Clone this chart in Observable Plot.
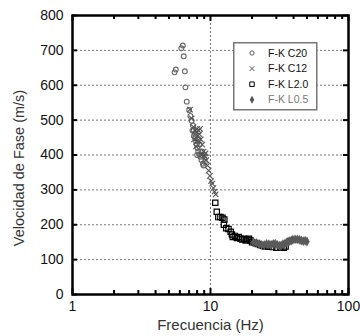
<!DOCTYPE html>
<html><head><meta charset="utf-8">
<script src="https://cdn.jsdelivr.net/npm/d3@7"></script>
<script src="https://cdn.jsdelivr.net/npm/@observablehq/plot@0.6"></script>
<style>
body{margin:0;background:#fff;font-family:"Liberation Sans",Arial,sans-serif}
#wrap{position:relative;width:360px;height:336px}
#legend{position:absolute;left:233px;top:42px}
</style>
</head><body><div id="wrap"></div><script>
const seriesNames = ["F-K C20", "F-K C12", "F-K L2.0", "F-K L0.5"];
const xLabel = "Frecuencia (Hz)";
const yLabel = "Velocidad de Fase (m/s)";
const xTickLabels = [1, 10, 100];
const xMinorTicks = [2,3,4,5,6,7,8,9,20,30,40,50,60,70,80,90];
const yTicks = [0,100,200,300,400,500,600,700,800];
const yGrid = [100,200,300,400,500,600,700];
const xGrid = [10];

// [frequency Hz, velocity m/s]
const c20 = [[6.30,714],[6.15,706],[6.40,683],[5.61,645],[5.49,637],[6.52,640],[6.58,594],[6.73,553],[7.0,529],[7.15,512],[7.3,498],[7.45,485],[7.55,472],[7.7,462],[7.75,448],[7.85,440],[7.95,430],[8.05,420],[8.15,410],[8.3,402],[8.45,395],[8.6,386],[8.8,375],[8.9,370],[9.1,380],[8.2,445],[7.6,455],[8.35,430],[7.4,470],[8.0,400],[8.7,410]];
const c12 = [[7.1,530],[7.3,505],[7.55,480],[7.7,470],[7.9,465],[8.0,475],[8.1,455],[8.2,470],[8.3,460],[8.5,445],[8.7,430],[8.9,410],[8.6,400],[9.1,395],[9.3,385],[9.5,370],[9.7,355],[9.9,340],[10.1,325],[10.3,318],[10.5,305],[10.7,295],[10.9,287],[8.0,440],[7.85,425],[9.0,400],[7.6,445],[8.4,475],[9.2,405]];
const l20 = [[10.83,263],[11.1,237],[11.4,222],[11.8,222],[12.2,220],[12.6,215],[12.5,200],[13.0,190],[13.5,188],[14.0,180],[14.3,172],[14.5,165],[15.0,168],[15.5,162],[16.0,165],[16.5,160],[17.0,158],[17.5,160],[18.0,155],[18.5,158],[19.0,160],[19.5,155],[20.0,150],[21.0,148],[22.0,145],[23.0,142],[24.0,140],[25.0,138],[26.5,138],[28,136],[30,134],[32,135],[34,134],[35,138]];
const l05 = [[20.5,150],[21.5,148],[22.5,145],[23.5,142],[24.5,142],[25.5,145],[26.5,144],[27.5,143],[28.5,145],[29.5,146],[30.5,142],[31.5,140],[32.5,141],[33.5,144],[34.5,145],[35.5,149],[36.5,152],[37.5,153],[38.5,155],[39.5,157],[41,158],[42.5,158],[44,157],[45.5,155],[47,153],[48.5,154],[50,152]];

const W = 360, H = 336, mL = 72, mR = 12, mT = 15, mB = 42;
const iW = W - mL - mR, iH = H - mT - mB;
const font = '"Liberation Sans", Arial, sans-serif';

const plot = Plot.plot({
  width: W, height: H,
  marginLeft: mL, marginRight: mR, marginTop: mT, marginBottom: mB,
  style: {fontFamily: font, background: "white", color: "#111", overflow: "visible"},
  x: {type: "log", domain: [1, 100]},
  y: {domain: [0, 800]},
  marks: [
    Plot.ruleY(yGrid, {stroke: "#777", strokeDasharray: "2,2", strokeWidth: 1}),
    Plot.ruleX(xGrid, {stroke: "#777", strokeDasharray: "2,2", strokeWidth: 1}),
    Plot.dot(c20, {x: d => d[0], y: d => d[1], symbol: "circle", r: 2.4, stroke: "#666", strokeWidth: 1.1, fill: "none"}),
    Plot.dot(c12, {x: d => d[0], y: d => d[1], symbol: "times", r: 2.6, stroke: "#555", strokeWidth: 1.1}),
    Plot.dot(l20, {x: d => d[0], y: d => d[1], symbol: "square", r: 3, stroke: "#000", strokeWidth: 1.2, fill: "none"}),
    Plot.dot(l05, {x: d => d[0], y: d => d[1], symbol: "diamond", r: 3, fill: "#5a5a5a", stroke: "none"}),
    // inward ticks
    Plot.ruleY(yTicks, {insetRight: iW - 5, strokeWidth: 2, stroke: "#000"}),
    Plot.ruleY(yTicks, {insetLeft: iW - 5, strokeWidth: 2, stroke: "#000"}),
    Plot.ruleX(xTickLabels, {insetTop: iH - 6, strokeWidth: 2, stroke: "#000"}),
    Plot.ruleX(xTickLabels, {insetBottom: iH - 6, strokeWidth: 2, stroke: "#000"}),
    Plot.ruleX(xMinorTicks, {insetTop: iH - 4, strokeWidth: 2, stroke: "#000"}),
    Plot.ruleX(xMinorTicks, {insetBottom: iH - 4, strokeWidth: 2, stroke: "#000"}),
    Plot.frame({stroke: "#000", strokeWidth: 2.5}),
    Plot.axisY({ticks: yTicks, tickSize: 0, tickPadding: 9, fontSize: 14, label: null}),
    Plot.axisX({ticks: xTickLabels, tickSize: 0, tickPadding: 7, fontSize: 14, tickFormat: d => String(d), label: null}),
    Plot.text([xLabel], {text: d => d, frameAnchor: "bottom", dy: 35, fontSize: 15, fill: "#333"})
  ]
});
const wrap = document.getElementById("wrap");
wrap.appendChild(plot);

// y-axis title (rotated)
d3.select(plot).append("text")
  .attr("transform", "translate(19,168) rotate(-90)")
  .attr("text-anchor", "middle").attr("dy", "0.35em")
  .attr("font-family", font).attr("font-size", 14.5).attr("fill", "#333")
  .text(yLabel);

// legend
const lw = 83, lh = 67;
const leg = d3.select(wrap).append("svg").attr("id", "legend")
  .attr("width", lw + 2).attr("height", lh + 2);
leg.append("rect").attr("x", 0.75).attr("y", 0.75).attr("width", lw).attr("height", lh)
  .attr("fill", "white").attr("stroke", "#777").attr("stroke-width", 1.5);
const legSyms = [
  {t: d3.symbolCircle, size: 14, stroke: "#555", fill: "none", col: "#111"},
  {t: d3.symbolTimes, size: 16, stroke: "#555", fill: "none", col: "#111"},
  {t: d3.symbolSquare, size: 20, stroke: "#000", fill: "none", col: "#111"},
  {t: d3.symbolDiamond, size: 18, stroke: "none", fill: "#555", col: "#777"}
];
seriesNames.forEach((name, i) => {
  const cy = 11 + i * 15.6;
  const s = legSyms[i];
  leg.append("path").attr("d", d3.symbol(s.t, s.size)())
    .attr("transform", `translate(19,${cy})`)
    .attr("fill", s.fill).attr("stroke", s.stroke).attr("stroke-width", 1);
  leg.append("text").attr("x", 35).attr("y", cy).attr("dy", "0.35em")
    .attr("font-size", 10.5).attr("font-family", font).attr("fill", s.col).text(name);
});
</script></body></html>
